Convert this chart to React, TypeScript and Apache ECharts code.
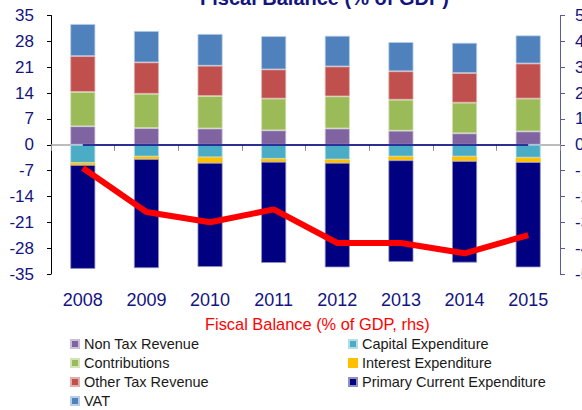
import React, { useEffect, useRef } from "react";
import * as echarts from "echarts";

const years = ["2008", "2009", "2010", "2011", "2012", "2013", "2014", "2015"];
const nonTax = [5.0, 4.5, 4.4, 3.9, 4.4, 3.8, 3.1, 3.6];
const contributions = [9.3, 9.3, 8.8, 8.6, 8.7, 8.4, 8.3, 8.9];
const otherTax = [9.7, 8.5, 8.2, 7.9, 8.1, 7.7, 8.0, 9.5];
const vat = [8.7, 8.5, 8.6, 9.0, 8.3, 7.9, 8.2, 7.6];
const capital = [-4.9, -3.2, -3.4, -3.8, -4.0, -3.2, -3.2, -3.5];
const interest = [-0.6, -0.7, -1.5, -0.8, -0.9, -1.0, -1.2, -1.2];
const primary = [-28.1, -29.5, -28.2, -27.4, -28.3, -27.5, -27.5, -28.5];
const balance = [-0.9, -2.6, -3.0, -2.5, -3.8, -3.8, -4.2, -3.5];

const leftLegend = ["Non Tax Revenue", "Contributions", "Other Tax Revenue", "VAT"];
const rightLegend = ["Capital Expenditure", "Interest Expenditure", "Primary Current Expenditure"];

const NAVY = "#14147f";
const FONT = "Liberation Sans, Arial, sans-serif";

export default function App() {
  const ref = useRef<HTMLDivElement>(null);
  useEffect(() => {
    if (!ref.current) return;
    const chart = echarts.init(ref.current, null, { renderer: "svg" });
    const bar = (name: string, data: number[], color: string, border: string) => ({
      name,
      type: "bar",
      stack: "a",
      data,
      barWidth: 25,
      xAxisIndex: 0,
      yAxisIndex: 0,
      itemStyle: { color, borderColor: border, borderWidth: 0.8 },
    });
    const colLegend = (left: number, data: string[]) => ({
      left,
      top: 331.5,
      height: 120,
      orient: "vertical",
      itemWidth: 8,
      itemHeight: 8,
      itemGap: 4,
      selectedMode: false,
      icon: "rect",
      data,
      textStyle: { color: "#1a1a1a", fontSize: 14.5, lineHeight: 14, fontFamily: FONT },
    });
    chart.setOption({
      animation: false,
      textStyle: { fontFamily: FONT },
      title: {
        text: "Fiscal Balance (% of GDP)",
        left: 200,
        top: -12,
        padding: 0,
        textStyle: { color: NAVY, fontSize: 20, fontWeight: "bold", fontFamily: FONT },
      },
      grid: {
        left: 51,
        right: 22,
        top: 15.5,
        bottom: 136,
        containLabel: false,
        outerBoundsMode: "none",
      },
      legend: [
        {
          left: 195,
          top: 310.5,
          itemWidth: 0,
          itemHeight: 0,
          selectedMode: false,
          data: [{ name: "Fiscal Balance (% of GDP, rhs)", icon: "none" }],
          textStyle: { color: "#ff0000", fontSize: 16.4, lineHeight: 16, fontFamily: FONT },
        },
        colLegend(65, leftLegend),
        colLegend(343, rightLegend),
      ],
      xAxis: [
        {
          type: "category",
          data: years,
          axisLine: { onZero: true, lineStyle: { color: "#a6a6a6", width: 1.5 } },
          axisTick: { show: true, interval: 0, length: 6, lineStyle: { color: "#8c8c8c", width: 1 } },
          axisLabel: { show: false },
        },
        {
          type: "category",
          data: years,
          position: "bottom",
          axisLine: { show: false, onZero: false },
          axisTick: { show: false },
          axisLabel: { show: true, margin: 17, color: NAVY, fontSize: 18, fontFamily: FONT },
        },
      ],
      yAxis: [
        {
          type: "value",
          min: -35,
          max: 35,
          interval: 7,
          position: "left",
          splitLine: { show: false },
          axisLine: { show: true, lineStyle: { color: "#000000", width: 1 } },
          axisTick: { show: true, length: 4, lineStyle: { color: "#000000" } },
          axisLabel: { margin: 17, color: NAVY, fontSize: 17, fontFamily: FONT },
        },
        {
          type: "value",
          min: -5,
          max: 5,
          interval: 1,
          position: "right",
          splitLine: { show: false },
          axisLine: { show: true, lineStyle: { color: "#5a5aa0", width: 1 } },
          axisTick: { show: true, length: 5, lineStyle: { color: "#5a5aa0" } },
          axisLabel: { margin: 15, color: NAVY, fontSize: 17, fontFamily: FONT },
        },
      ],
      series: [
        bar("Non Tax Revenue", nonTax, "#8064a2", "#c9bfd8"),
        bar("Contributions", contributions, "#9bbb59", "#d3e2b8"),
        bar("Other Tax Revenue", otherTax, "#c0504d", "#e2aeac"),
        bar("VAT", vat, "#4f81bd", "#b7cce6"),
        bar("Capital Expenditure", capital, "#4bacc6", "#b5dde8"),
        bar("Interest Expenditure", interest, "#ffc000", "#ffc000"),
        bar("Primary Current Expenditure", primary, "#000080", "#8f8fc0"),
        {
          name: "Fiscal Balance (% of GDP, rhs)",
          type: "line",
          data: balance,
          xAxisIndex: 0,
          yAxisIndex: 1,
          symbol: "none",
          z: 10,
          lineStyle: { color: "#ff0000", width: 6 },
          itemStyle: { color: "#ff0000" },
          markLine: {
            silent: true,
            symbol: "none",
            label: { show: false },
            lineStyle: { color: "#000080", width: 1.5, type: "solid" },
            data: [[{ coord: ["2008", 0] }, { coord: ["2015", 0] }]],
          },
        },
      ],
    });
    return () => chart.dispose();
  }, []);
  return (
    <div
      ref={ref}
      style={{ position: "fixed", left: 0, top: 0, width: 582, height: 410, background: "#ffffff" }}
    />
  );
}
